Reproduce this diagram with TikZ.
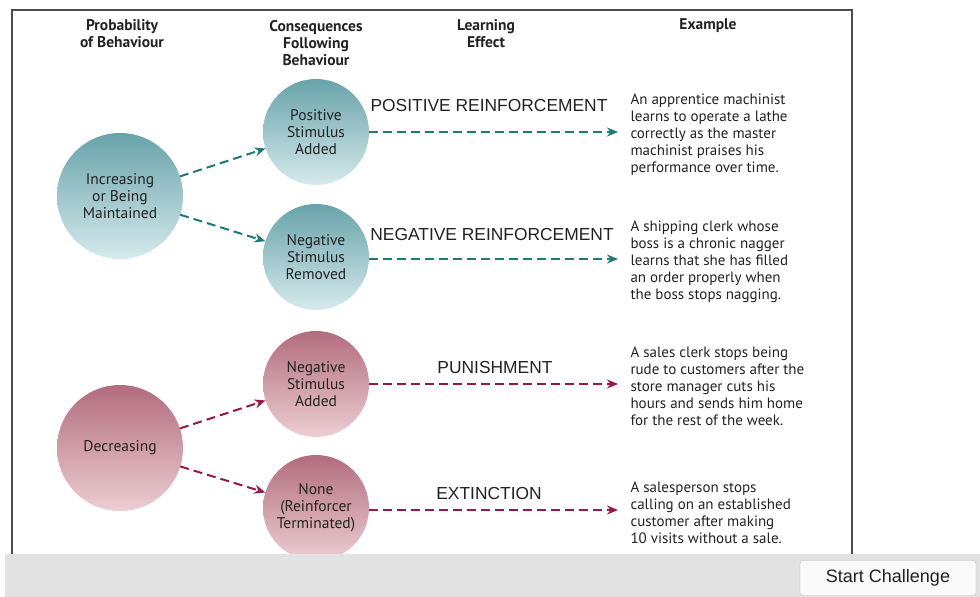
\documentclass[tikz,border=0pt]{standalone}
\usepackage{fontspec}
\setmainfont{PT Sans}
\newfontfamily\arialfont{Liberation Sans}
\usetikzlibrary{arrows.meta}
\definecolor{tealtop}{RGB}{104,163,170}
\definecolor{tealbot}{RGB}{214,234,236}
\definecolor{pinktop}{RGB}{178,108,126}
\definecolor{pinkbot}{RGB}{236,206,211}
\definecolor{tealline}{RGB}{30,122,120}
\definecolor{pinkline}{RGB}{150,25,75}
\definecolor{ink}{RGB}{34,34,34}
\definecolor{barfill}{RGB}{226,226,226}

\tikzset{
  big/.style={circle, minimum size=126pt, inner sep=0pt, outer sep=0pt, align=center,
    text=ink, font=\fontsize{15.5}{17}\selectfont},
  small/.style={big, minimum size=106pt},
  tealball/.style={shading=axis, top color=tealtop, bottom color=tealbot},
  pinkball/.style={shading=axis, top color=pinktop, bottom color=pinkbot},
  flow/.style={dash pattern=on 9pt off 5pt, line width=2pt, -{Stealth[length=11pt,width=9pt]}},
  head/.style={align=center, text=ink, font=\bfseries\fontsize{15.5}{17}\selectfont},
  effect/.style={text=ink, font=\arialfont\fontsize{17.4}{20}\selectfont},
  example/.style={anchor=west, align=left, text=ink, font=\fontsize{15}{17}\selectfont},
}

\begin{document}
\begin{tikzpicture}[x=1pt, y=-1pt]
    \useasboundingbox (0,0) rectangle (980,597);

    % column heads
    \node [head] (hprob) at (122,34) {Probability\\of Behaviour};
    \node [head] (hcons) at (316,43) {Consequences\\Following\\Behaviour};
    \node [head] (hlearn) at (486,34) {Learning\\Effect};
    \node [head] (hex) at (708,26) {Example};

    % behaviour increasing
    \node [big, tealball] (inc) at (120,196) {Increasing\\or Being\\Maintained};
    \node [small, tealball] (psa) at (316,132) {Positive\\Stimulus\\Added};
    \node [small, tealball] (nsr) at (316,257) {Negative\\Stimulus\\Removed};

    % behaviour decreasing
    \node [big, pinkball] (dec) at (120,448) {Decreasing};
    \node [small, pinkball] (nsa) at (316,384) {Negative\\Stimulus\\Added};
    \node [small, pinkball] (none) at (316,508) {None\\(Reinforcer\\Terminated)};

    \coordinate (e1) at (618,132);
    \coordinate (e2) at (618,259);
    \coordinate (e3) at (618,384);
    \coordinate (e4) at (618,510);

    \draw [flow, tealline] (inc) -- (psa);
    \draw [flow, tealline] (inc) -- (nsr);
    \draw [flow, pinkline] (dec) -- (nsa);
    \draw [flow, pinkline] (dec) -- (none);

    \draw [flow, tealline] (psa.east) -- (e1);
    \draw [flow, tealline] (nsr.east |- e2) -- (e2);
    \draw [flow, pinkline] (nsa.east) -- (e3);
    \draw [flow, pinkline] (none.east |- e4) -- (e4);

    \node [effect] (l1) at (489,106) {POSITIVE REINFORCEMENT};
    \node [effect] (l2) at (492,235) {NEGATIVE REINFORCEMENT};
    \node [effect] (l3) at (495,368) {PUNISHMENT};
    \node [effect] (l4) at (489,494) {EXTINCTION};

    \node [example] (x1) at (627,135) {An apprentice machinist\\learns to operate a lathe\\correctly as the master\\machinist praises his\\performance over time.};
    \node [example] (x2) at (627,261.5) {A shipping clerk whose\\boss is a chronic nagger\\learns that she has filled\\an order properly when\\the boss stops nagging.};
    \node [example] (x3) at (627,386.5) {A sales clerk stops being\\rude to customers after the\\store manager cuts his\\hours and sends him home\\for the rest of the week.};
    \node [example] (x4) at (627,512.5) {A salesperson stops\\calling on an established\\customer after making\\10 visits without a sale.};

    % frame and bottom bar
    \draw [gray!60!black, line width=1.3pt] (12,554) -- (12,10) -- (852,10) -- (852,554);
    \fill [barfill] (5,554) rectangle (980,597);
    \node [draw=gray!55, fill=white!96!gray, rounded corners=3pt, minimum width=176pt,
      minimum height=35pt, text=ink, font=\arialfont\fontsize{18}{20}\selectfont]
      (start) at (888,578) {Start Challenge};
\end{tikzpicture}
\end{document}
